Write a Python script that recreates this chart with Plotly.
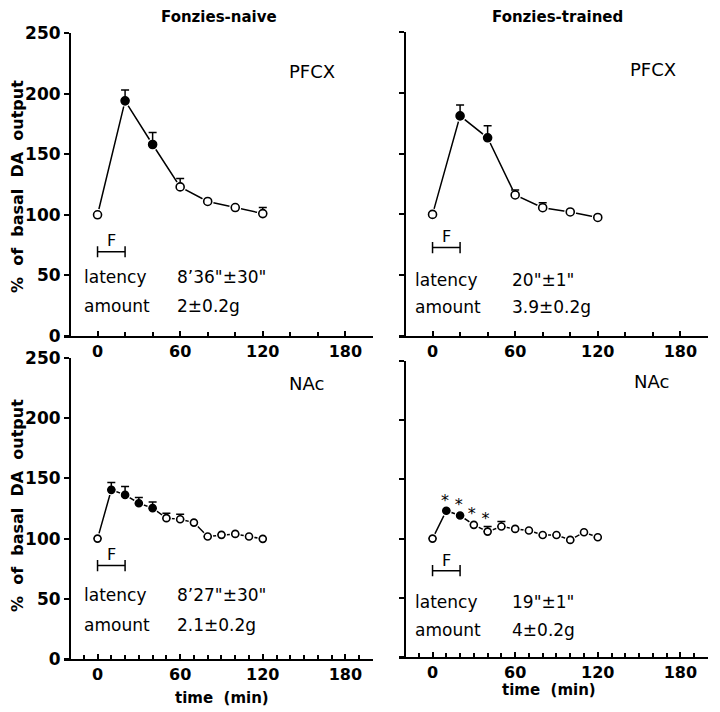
import plotly.graph_objects as go

# ---------------- data ----------------
time_20 = [0, 20, 40, 60, 80, 100, 120]
time_10 = [0, 10, 20, 30, 40, 50, 60, 70, 80, 90, 100, 110, 120]

pfcx_naive = [100, 194, 158, 123, 111, 106, 101]
pfcx_naive_errtop = [None, 203, 168, 130, None, None, 106]
pfcx_naive_filled = [0, 1, 1, 0, 0, 0, 0]

pfcx_trained = [100, 181, 163, 116, 105.5, 102, 97.5]
pfcx_trained_errtop = [None, 190, 173, 120, 109.5, None, None]
pfcx_trained_filled = [0, 1, 1, 0, 0, 0, 0]

nac_naive = [100, 140.5, 136.3, 129.4, 125.3, 117, 116.1, 113.3, 101.7, 103.1, 103.9, 101.7, 99.8]
nac_naive_errtop = [None, 146.6, 143.3, 134.1, 130.5, 121.1, 120.3, None, None, None, None, None, None]
nac_naive_filled = [0, 1, 1, 1, 1, 0, 0, 0, 0, 0, 0, 0, 0]

nac_trained = [100, 123.5, 119.5, 111.6, 105.9, 110.2, 108.2, 106.8, 103.1, 103.1, 98.9, 105.4, 101.2]
nac_trained_errtop = [None, None, None, None, 110.2, 114.4, None, None, None, None, None, None, None]
nac_trained_filled = [0, 1, 1, 0, 0, 0, 0, 0, 0, 0, 0, 0, 0]

star_x = [9, 19, 28.5, 38.5]
star_y = [131, 127.5, 120, 115.5]

column_titles = ["Fonzies-naive", "Fonzies-trained"]
region_labels = ["PFCX", "PFCX", "NAc", "NAc"]
latency_values = ["8\u201936\"\u00b130\"", "20\"\u00b11\"", "8\u201927\"\u00b130\"", "19\"\u00b11\""]
amount_values = ["2\u00b10.2g", "3.9\u00b10.2g", "2.1\u00b10.2g", "4\u00b10.2g"]
y_ticks = [0, 50, 100, 150, 200, 250]
x_ticks = [0, 60, 120, 180]

# ---------------- layout geometry ----------------
# the page body has an 8px margin, so the figure is drawn 8px smaller and
# reference pixel positions are shifted by that offset
OFF = 8
W, H = 720 - OFF, 712 - OFF
X_LO, X_HI = -24, 200
PX_PER_MIN = 1.377


def px_x(px):
    return (px - OFF) / W


def px_y(py):
    return 1 - (py - OFF) / H


def xdom(yaxis_px):
    left = yaxis_px - 4 * PX_PER_MIN
    right = left + (X_HI - X_LO) * PX_PER_MIN
    return [px_x(left), min(px_x(right), 1.0)]


panels = [
    # (axis suffix, y-axis pixel x, y top px, y bottom px, minor dtick, marker size)
    ("", 70, 33, 336, 20, 8),
    ("2", 405, 32, 336, 20, 8),
    ("3", 70, 358, 659, 10, 7),
    ("4", 405, 361, 657, 10, 7),
]

series = [
    (time_20, pfcx_naive, pfcx_naive_errtop, pfcx_naive_filled),
    (time_20, pfcx_trained, pfcx_trained_errtop, pfcx_trained_filled),
    (time_10, nac_naive, nac_naive_errtop, nac_naive_filled),
    (time_10, nac_trained, nac_trained_errtop, nac_trained_filled),
]

label_pos = [(156, 218), (160, 219), (152, 229), (159, 233)]
text_left = [(-11.5, 56.3, 49, 24.4), (-14, 56.3, 46.4, 23.5),
             (-11.5, 56.3, 53.2, 28.3), (-14.5, 56.3, 46.6, 22.6)]
f_bar_y = [69.5, 72.7, 77.6, 72.9]

THIN = "DejaVu Sans"
BOLD = "DejaVu Sans"

fig = go.Figure()
layout = dict(template="none", width=W, height=H, margin=dict(l=0, r=0, t=0, b=0, pad=0),
              paper_bgcolor="white", plot_bgcolor="white", showlegend=False)
annotations = []

for i, (sfx, ypx, ytop, ybot, mdt, msize) in enumerate(panels):
    xa, ya = "x" + sfx, "y" + sfx
    layout["xaxis" + sfx] = dict(
        domain=xdom(ypx), range=[X_LO, X_HI], anchor=ya, automargin=False,
        showline=True, linecolor="black", linewidth=2,
        tickmode="array", tickvals=x_ticks, ticktext=[str(v) for v in x_ticks],
        ticks="inside", ticklen=5, tickwidth=1.5, tickcolor="black",
        minor=dict(tick0=0, dtick=mdt, ticks="inside", ticklen=4, tickwidth=1.5,
                   tickcolor="black", showgrid=False),
        showgrid=False, zeroline=False,
        tickfont=dict(family=BOLD, size=16, color="black", weight="bold"),
    )
    layout["yaxis" + sfx] = dict(
        domain=[px_y(ybot), px_y(ytop)], range=[0, 250],
        anchor="free", position=px_x(ypx), automargin=False,
        showline=True, linecolor="black", linewidth=2,
        tickmode="array", tickvals=y_ticks,
        ticks="outside", ticklen=5, tickwidth=1.5, tickcolor="black",
        showticklabels=(i % 2 == 0),
        showgrid=False, zeroline=False,
        tickfont=dict(family=BOLD, size=17, color="black", weight="bold"),
    )

    t, v, etop, filled = series[i]
    plus = [(e - val) if e is not None else None for e, val in zip(etop, v)]
    # connecting line
    fig.add_trace(go.Scatter(x=t, y=v, mode="lines", xaxis=xa, yaxis=ya,
                             line=dict(color="black", width=1.5), hoverinfo="skip"))
    # white halo giving small gaps around markers
    fig.add_trace(go.Scatter(x=t, y=v, mode="markers", xaxis=xa, yaxis=ya,
                             marker=dict(size=msize + 4, color="white", line=dict(width=0)),
                             hoverinfo="skip"))
    # markers with upward error bars
    fig.add_trace(go.Scatter(
        x=t, y=v, mode="markers", xaxis=xa, yaxis=ya,
        marker=dict(size=msize, color=["black" if f else "white" for f in filled],
                    line=dict(color="black", width=1.6)),
        error_y=dict(type="data", symmetric=False, array=plus,
                     arrayminus=[0 if p is not None else None for p in plus],
                     color="black", thickness=1.5, width=4),
    ))
    # F bar (food presentation 0-20 min)
    fig.add_trace(go.Scatter(
        x=[0, 20], y=[f_bar_y[i], f_bar_y[i]], mode="lines+markers", xaxis=xa, yaxis=ya,
        line=dict(color="black", width=1.5),
        marker=dict(symbol="line-ns", size=8, line=dict(color="black", width=1.5)),
        hoverinfo="skip"))
    annotations.append(dict(x=10, y=f_bar_y[i] + 9, xref=xa, yref=ya, text="F",
                            xanchor="center", yanchor="middle",
                            showarrow=False, font=dict(family=THIN, size=16, color="black")))
    # region label
    lx, ly = label_pos[i]
    annotations.append(dict(x=lx, y=ly, xref=xa, yref=ya, text=region_labels[i],
                            xanchor="center", yanchor="middle",
                            showarrow=False, font=dict(family=THIN, size=18, color="black")))
    # latency / amount text
    tx, vx, ly1, ly2 = text_left[i]
    for txt, xx, yy in [("latency", tx, ly1), ("amount", tx, ly2),
                        (latency_values[i], vx, ly1), (amount_values[i], vx, ly2)]:
        annotations.append(dict(x=xx, y=yy, xref=xa, yref=ya, text=txt, xanchor="left",
                                yanchor="middle", showarrow=False,
                                font=dict(family=THIN, size=17, color="black")))

# significance asterisks (NAc trained)
fig.add_trace(go.Scatter(x=star_x, y=star_y, mode="text", text=["*"] * len(star_x),
                         xaxis="x4", yaxis="y4", textposition="middle center",
                         textfont=dict(family="DejaVu Sans", size=16, color="black"),
                         hoverinfo="skip"))

# column titles
for txt, cx in zip(column_titles, [219, 557]):
    annotations.append(dict(x=px_x(cx), y=px_y(17), xref="paper", yref="paper", text=txt,
                            xanchor="center", yanchor="middle", showarrow=False,
                            font=dict(family=BOLD, size=15, color="black", weight="bold")))

# y-axis titles
ytitle = "%\u00a0 of\u00a0 basal\u00a0 DA\u00a0 output"
for cy in [187, 506]:
    annotations.append(dict(x=px_x(17), y=px_y(cy), xref="paper", yref="paper", text=ytitle,
                            xanchor="center", yanchor="middle",
                            textangle=-90, showarrow=False,
                            font=dict(family=BOLD, size=16, color="black", weight="bold")))

# x-axis titles
for cx, cy in [(222, 698), (549, 690)]:
    annotations.append(dict(x=px_x(cx), y=px_y(cy), xref="paper", yref="paper",
                            text="time\u00a0 (min)", xanchor="center", yanchor="middle",
                            showarrow=False,
                            font=dict(family=BOLD, size=15, color="black", weight="bold")))

layout["annotations"] = annotations
fig.update_layout(**layout)
fig.write_html("out.html")
